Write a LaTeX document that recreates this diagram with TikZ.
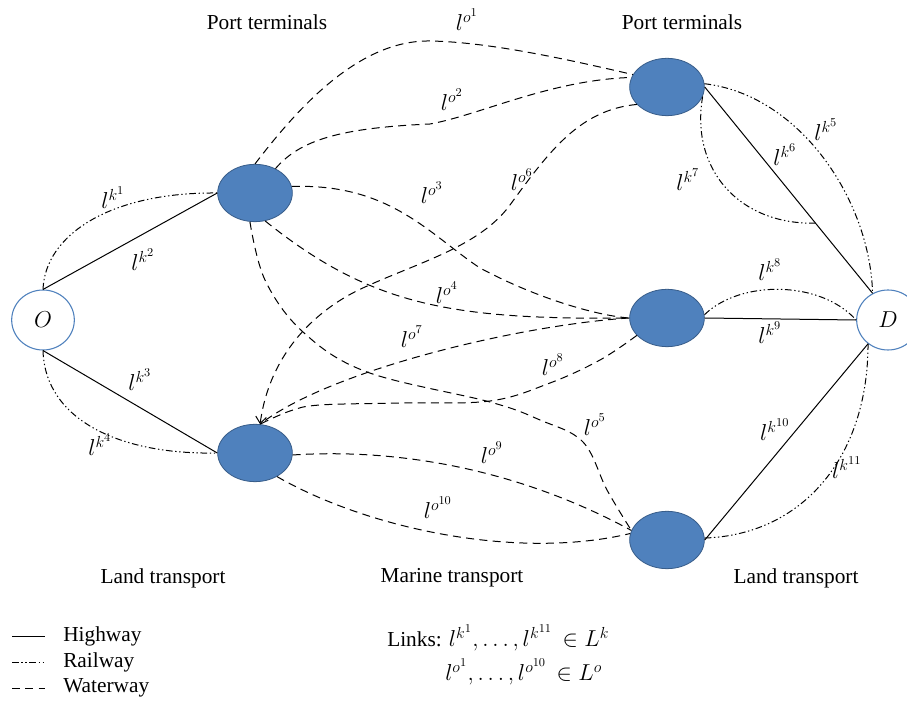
\documentclass[tikz,border=0pt]{standalone}
\usepackage{fontspec}
\setmainfont{Liberation Serif}
\usetikzlibrary{shapes.geometric,calc,arrows.meta}
\definecolor{termfill}{HTML}{4F81BD}
\definecolor{termedge}{HTML}{385D8A}
\begin{document}
\begin{tikzpicture}[x=0.75pt, y=-0.75pt,
  term/.style={ellipse, fill=termfill, draw=termedge, line width=0.6pt, minimum width=56pt, minimum height=43pt, inner sep=0pt},
  endpt/.style={ellipse, fill=white, draw=termfill, line width=0.8pt, minimum width=47pt, minimum height=45pt, inner sep=0pt, font=\fontsize{18}{21}\selectfont},
  highway/.style={line width=0.75pt},
  railway/.style={line width=0.75pt, dash pattern=on 5pt off 2pt on 1pt off 2pt on 1pt off 2pt},
  waterway/.style={line width=0.75pt, dash pattern=on 6pt off 4pt},
  lnk/.style={font=\fontsize{18}{21}\selectfont, inner sep=0pt},
  txt/.style={font=\fontsize{16}{19}\selectfont, inner sep=0pt}]
\useasboundingbox (0,0) rectangle (907,705);
% origin, destination and terminals
\node[endpt] (O) at (43,320) {$O$};
\node[endpt] (D) at (888,320) {$D$};
\node[term] (ptl1) at (255,193) {};
\node[term] (ptl2) at (255,453) {};
\node[term] (ptr1) at (667,87) {};
\node[term] (ptr2) at (667,318) {};
\node[term] (ptr3) at (667,540) {};
\coordinate (k7end) at ($(ptr1.east)!0.66!(D.120)$);
% land links, left
\draw[highway] (O.north) -- (ptl1.west);
\draw[railway] (O.north) .. controls (45,235) and (110,192) .. (ptl1.west);
\draw[highway] (O.south) -- (ptl2.west);
\draw[railway] (O.south) .. controls (45,420) and (120,455) .. (ptl2.west);
% marine links
\draw[waterway] (ptl1.north) .. controls (300,105) and (360,40) .. (430,41) .. controls (490,42) and (570,60) .. (ptr1.160);
\draw[waterway] (ptl1.50) .. controls (300,140) and (340,128) .. (430,124) .. controls (480,115) and (550,80) .. (ptr1.165);
\draw[waterway] (ptl1.10) .. controls (390,183) and (430,235) .. (480,268) .. controls (540,300) and (600,316) .. (ptr2.west);
\draw[waterway] (ptl1.-70) .. controls (370,305) and (450,320) .. (ptr2.west);
\draw[waterway] plot[smooth, tension=0.6] coordinates {(ptl1.-100) (265,280) (303,332) (367,372) (490,402) (540,420) (583,442) (607,490) (ptr3.165)};
\draw[waterway, -{Straight Barb[length=5pt, width=8pt]}] (ptr1.210) .. controls (580,110) and (550,150) .. (510,205) .. controls (480,246) and (420,262) .. (365,287) .. controls (320,307) and (270,350) .. (ptl2.80);
\draw[waterway] (ptr2.west) .. controls (520,325) and (330,370) .. (ptl2.80);
\draw[waterway] plot[smooth, tension=0.6] coordinates {(ptr2.210) (600,360) (550,383) (490,401) (400,403) (320,405) (290,411) (ptl2.80)};
\draw[waterway] (ptl2.-3) .. controls (400,448) and (520,470) .. (ptr3.165);
\draw[waterway] (ptl2.-47) .. controls (370,530) and (520,560) .. (ptr3.170);
% land links, right
\draw[highway] (ptr1.east) -- (D.120);
\draw[railway] (ptr1.5) .. controls (800,95) and (870,200) .. (D.120);
\draw[railway] (ptr1.-15) .. controls (690,170) and (740,225) .. (k7end);
\draw[highway] (ptr2.east) -- (D.west);
\draw[railway] (ptr2.5) .. controls (740,280) and (820,280) .. (D.west);
\draw[highway] (ptr3.east) -- (D.230);
\draw[railway] (ptr3.3) .. controls (800,535) and (868,460) .. (D.230);
% link labels
\node[lnk] (lk1) at (113,198) {$l^{k^{1}}$};
\node[lnk] (lk2) at (143,260) {$l^{k^{2}}$};
\node[lnk] (lk3) at (140,380) {$l^{k^{3}}$};
\node[lnk] (lk4) at (100,445) {$l^{k^{4}}$};
\node[lnk] (lk5) at (826,130) {$l^{k^{5}}$};
\node[lnk] (lk6) at (785,155) {$l^{k^{6}}$};
\node[lnk] (lk7) at (688,180) {$l^{k^{7}}$};
\node[lnk] (lk8) at (770,270) {$l^{k^{8}}$};
\node[lnk] (lk9) at (770,333) {$l^{k^{9}}$};
\node[lnk] (lk10) at (775,430) {$l^{k^{10}}$};
\node[lnk] (lk11) at (847,468) {$l^{k^{11}}$};
\node[lnk] (lo1) at (467,20) {$l^{o^{1}}$};
\node[lnk] (lo2) at (452,100) {$l^{o^{2}}$};
\node[lnk] (lo3) at (432,193) {$l^{o^{3}}$};
\node[lnk] (lo4) at (447,293) {$l^{o^{4}}$};
\node[lnk] (lo5) at (595,425) {$l^{o^{5}}$};
\node[lnk] (lo6) at (522,180) {$l^{o^{6}}$};
\node[lnk] (lo7) at (412,337) {$l^{o^{7}}$};
\node[lnk] (lo8) at (553,365) {$l^{o^{8}}$};
\node[lnk] (lo9) at (492,453) {$l^{o^{9}}$};
\node[lnk] (lo10) at (438,508) {$l^{o^{10}}$};
% headings
\node[txt] (pt1) at (267,22) {Port terminals};
\node[txt] (pt2) at (682,22) {Port terminals};
\node[txt] (lt1) at (163,578) {Land transport};
\node[txt] (mt) at (452,578) {Marine transport};
\node[txt] (lt2) at (796,578) {Land transport};
% legend
\node[txt, anchor=west] (leg1) at (63,636) {Highway};
\node[txt, anchor=west] (leg2) at (63,662) {Railway};
\node[txt, anchor=west] (leg3) at (63,688) {Waterway};
\draw[highway] (12,636) -- (45,636);
\draw[railway] (12,662) -- (45,662);
\draw[waterway] (12,688) -- (45,688);
\node[lnk, anchor=west] (links1) at (387,638) {\fontsize{16}{19}\selectfont Links: \fontsize{18}{21}\selectfont$l^{k^{1}},\ldots,l^{k^{11}}\,\in L^{k}$};
\node[lnk, anchor=west] (links2) at (445,672) {$l^{o^{1}},\ldots,l^{o^{10}}\,\in L^{o}$};
\end{tikzpicture}
\end{document}
